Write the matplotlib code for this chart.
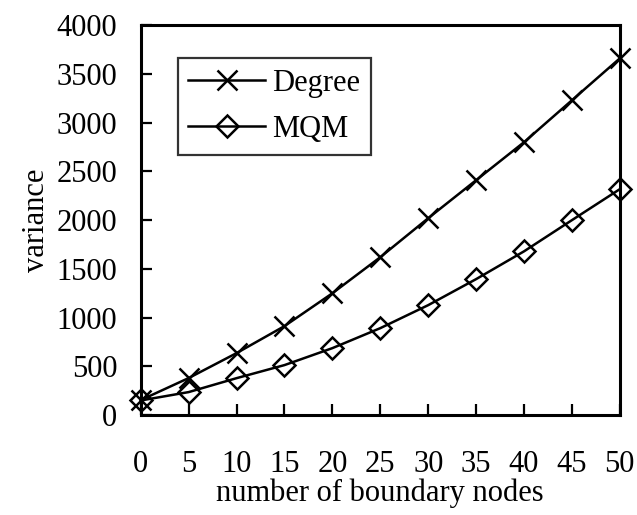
import matplotlib.pyplot as plt

plt.rcParams['font.family'] = ['Liberation Serif', 'DejaVu Serif']

nodes = [0, 5, 10, 15, 20, 25, 30, 35, 40, 45, 50]
degree = [154, 380, 636, 913, 1250, 1620, 2020, 2410, 2800, 3230, 3660]
mqm = [150, 236, 379, 513, 687, 892, 1128, 1395, 1680, 2000, 2318]

fig = plt.figure(figsize=(6.37, 5.15), dpi=100)
ax = fig.add_axes([0.221, 0.194, 0.752, 0.757])

ax.plot(nodes, degree, color='black', lw=1.8, marker='x', markersize=15,
        markeredgewidth=1.8, label='Degree', clip_on=False)
ax.plot(nodes, mqm, color='black', lw=1.8, marker='D', markersize=11,
        markerfacecolor='none', markeredgewidth=1.8, label='MQM', clip_on=False)

ax.set_xlim(0, 50)
ax.set_ylim(0, 4000)
ax.set_xticks(nodes)
ax.set_yticks(range(0, 4001, 500))
ax.tick_params(direction='in', length=8, width=1.6, labelsize=22, top=False, right=False)
ax.tick_params(axis='x', pad=25)
ax.tick_params(axis='y', pad=17)
for s in ax.spines.values():
    s.set_linewidth(2.2)

ax.set_xlabel('number of boundary nodes', fontsize=22, labelpad=0)
ax.set_ylabel('variance', fontsize=22, labelpad=4)

leg = ax.legend(loc='upper left', bbox_to_anchor=(0.077, 0.915), fontsize=22,
                frameon=True, fancybox=False, edgecolor='black', handlelength=2.5,
                borderpad=0.35, labelspacing=0.55, handletextpad=0.25, borderaxespad=0)
leg.get_frame().set_linewidth(1.6)

fig.savefig('out.png', dpi=100)
